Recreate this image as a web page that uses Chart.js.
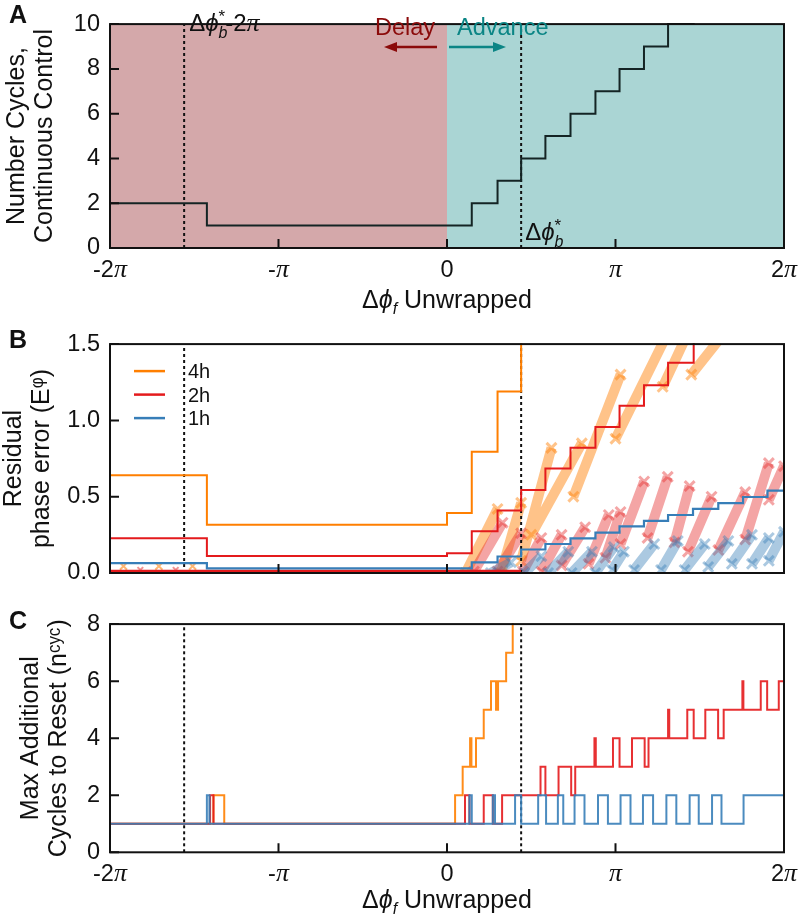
<!DOCTYPE html>
<html>
<head>
<meta charset="utf-8">
<script src="https://cdn.jsdelivr.net/npm/chart.js@4.4.0/dist/chart.umd.min.js"></script>
<style>
  body { margin: 0; background: #fff; }
  #wrap { position: relative; width: 800px; height: 920px; }
  canvas { position: absolute; left: 0; }
</style>
</head>
<body>
<div id="wrap">
  <canvas id="chartA" width="800" height="320" style="top:0px"></canvas>
  <canvas id="chartB" width="800" height="280" style="top:320px"></canvas>
  <canvas id="chartC" width="800" height="320" style="top:600px"></canvas>
</div>
<script>
// x values are in units of pi (phase shift, unwrapped)
const phaseTicks = [-2, -1, 0, 1, 2];
const phaseLabels = ["-2", "-", "0", "", "2"]; // number part, pi added when drawn
const phaseHasPi = [true, true, false, true, true];
const dphiStar = 0.44;
const guideLines = [dphiStar - 2, dphiStar];

// A: number of cycles with continuous control
const cyclesEdges = [-2, -1.425, 0.147, 0.30, 0.44, 0.584, 0.733, 0.881, 1.024, 1.169, 1.312, 1.464, 2];
const cyclesVals = [2, 1, 2, 3, 4, 5, 6, 7, 8, 9, 10, 11];
const cyclesMax = 10;

// B: residual phase error, step lines
const errEdges4h = [-2, -1.425, 0, 0.147, 0.30, 0.44, 2];
const err4h = [0.64, 0.317, 0.394, 0.794, 1.19, 1.6];
const errEdges2h = [-2, -1.425, 0, 0.147, 0.30, 0.44, 0.584, 0.733, 0.881, 1.024, 1.169, 1.312, 1.464, 2];
const err2h = [0.227, 0.112, 0.129, 0.273, 0.41, 0.544, 0.685, 0.82, 0.956, 1.096, 1.231, 1.377, 1.6];
const errEdges1h = [-2, -1.425, 0.147, 0.30, 0.44, 0.584, 0.733, 0.881, 1.024, 1.169, 1.312, 1.46, 1.61, 1.757, 1.902, 2];
const err1h = [0.065, 0.03, 0.07, 0.108, 0.154, 0.19, 0.227, 0.265, 0.305, 0.342, 0.38, 0.42, 0.458, 0.498, 0.54];
const floorEdges2h = [-2, 0.44];
const floor2h = [0.008];

// B: streaks of individual runs [x0, y0, x1, y1]
const bands4h = [
  [0.11, 0.00, 0.30, 0.42], [0.32, 0.00, 0.44, 0.46], [0.44, 0.08, 0.62, 0.82],
  [0.50, 0.25, 0.80, 0.85], [0.75, 0.50, 1.03, 1.30], [1.00, 0.88, 1.30, 1.55],
  [1.28, 1.22, 1.42, 1.55], [1.45, 1.30, 1.63, 1.55]
];
const bands2h = [
  [0.16, 0.01, 0.33, 0.33], [0.30, 0.01, 0.44, 0.26], [0.45, 0.01, 0.56, 0.23],
  [0.56, 0.01, 0.68, 0.25], [0.68, 0.05, 0.82, 0.30], [0.84, 0.06, 0.96, 0.38],
  [0.94, 0.10, 1.03, 0.40], [1.03, 0.19, 1.17, 0.60], [1.19, 0.23, 1.31, 0.63],
  [1.35, 0.20, 1.44, 0.57], [1.43, 0.14, 1.57, 0.50], [1.61, 0.15, 1.77, 0.53],
  [1.77, 0.22, 1.91, 0.72], [1.91, 0.48, 2.00, 0.70]
];
const bands1h = [
  [0.26, 0.00, 0.38, 0.07], [0.46, 0.00, 0.56, 0.11], [0.60, 0.00, 0.72, 0.14],
  [0.74, 0.00, 0.86, 0.14], [0.88, 0.00, 0.99, 0.17], [0.98, 0.02, 1.05, 0.14],
  [1.11, 0.02, 1.23, 0.19], [1.27, 0.02, 1.37, 0.21], [1.41, 0.02, 1.53, 0.19],
  [1.55, 0.04, 1.67, 0.21], [1.69, 0.06, 1.81, 0.25], [1.81, 0.06, 1.91, 0.23],
  [1.91, 0.08, 2.00, 0.27]
];
const leftMarks4h = [[-1.92, 0.045], [-1.71, 0.045], [-1.51, 0.045]];
const leftMarks2h = [[-1.82, 0.02], [-1.61, 0.02]];

// C: max additional cycles to reset
const resetEdges4h = [-2, -1.386, -1.322, 0.048, 0.093, 0.137, 0.145, 0.172, 0.218, 0.261, 0.291, 0.303, 0.351, 0.39, 0.5];
const reset4h = [1, 2, 1, 2, 3, 4, 3, 4, 5, 6, 5, 6, 7, 9];
const resetEdges2h = [-2, -1.406, -1.386, 0.107, 0.133, 0.218, 0.272, 0.327, 0.555, 0.584, 0.662, 0.737, 0.761,
  0.875, 0.883, 0.985, 1.024, 1.098, 1.173, 1.196, 1.312, 1.319, 1.426, 1.464, 1.533, 1.609, 1.642, 1.753,
  1.759, 1.862, 1.900, 1.969, 2.0];
const reset2h = [1, 2, 1, 2, 1, 2, 1, 2, 3, 2, 3, 2, 3, 4, 3, 4, 3, 4, 3, 4, 5, 4, 5, 4, 5, 4, 5, 6, 5, 6, 5, 6];
const resetEdges1h = [-2, -1.425, -1.41, 0.133, 0.147, 0.272, 0.285, 0.404, 0.44, 0.541, 0.588, 0.658, 0.69,
  0.757, 0.816, 0.896, 0.955, 1.030, 1.089, 1.163, 1.223, 1.302, 1.361, 1.440, 1.494, 1.573, 1.629, 1.760, 2.0];
const reset1h = [1, 2, 1, 2, 1, 2, 1, 2, 1, 2, 1, 2, 1, 2, 1, 2, 1, 2, 1, 2, 1, 2, 1, 2, 1, 2, 1, 2];

const c4h = "#ff7f00", c2h = "#e41a1c", c1h = "#377eb8";
const sans = '"Liberation Sans", Arial, sans-serif';
const serifPi = 'italic 26px "Liberation Serif", serif';
Chart.defaults.font.family = sans;
Chart.defaults.color = "#111";

function stepPoints(edges, vals) {
  const pts = vals.map((v, i) => ({ x: edges[i], y: v }));
  pts.push({ x: edges[edges.length - 1], y: vals[vals.length - 1] });
  return pts;
}

function bandPoints(list) {
  const pts = [];
  list.forEach((b) => {
    pts.push({ x: b[0], y: b[1] }, { x: b[2], y: b[3] }, { x: b[2], y: null });
  });
  return pts;
}

function stepSet(label, edges, vals, color, width) {
  return { label: label, data: stepPoints(edges, vals), borderColor: color, borderWidth: width,
    stepped: "before", pointRadius: 0, order: 1, clip: 1 };
}

function bandSet(list, color) {
  return { data: bandPoints(list), borderColor: color, borderWidth: 10, borderCapStyle: "butt",
    pointStyle: "crossRot", pointRadius: 7, pointBorderWidth: 3, pointBorderColor: color,
    pointBackgroundColor: color, order: 3, clip: 0 };
}

function guideSets(yMax) {
  return guideLines.map((g) => ({ data: [{ x: g, y: 0 }, { x: g, y: yMax }], borderColor: "#111",
    borderWidth: 2, borderDash: [3, 3], pointRadius: 0, order: 2, clip: 0 }));
}

function richText(ctx, x, y, parts, align) {
  let w = 0;
  parts.forEach((p) => { ctx.font = p.f; if (!p.stay) w += ctx.measureText(p.t).width; });
  let cx = align === "center" ? x - w / 2 : align === "right" ? x - w : x;
  ctx.textAlign = "left";
  parts.forEach((p) => {
    ctx.font = p.f;
    ctx.fillText(p.t, cx, y + (p.dy || 0));
    if (!p.stay) cx += ctx.measureText(p.t).width;
  });
}

function phiStar(ctx, x, y, tail) {
  const parts = [
    { t: "Δ", f: "24px " + sans },
    { t: "ϕ", f: "italic 24px " + sans },
    { t: "b", f: "italic 16px " + sans, dy: 7, stay: true },
    { t: "*", f: "17px " + sans, dy: -9 }
  ];
  if (tail) {
    parts.push({ t: "-2", f: "24px " + sans });
    parts.push({ t: "π", f: serifPi });
  }
  richText(ctx, x, y, parts, "left");
}

function arrow(ctx, x0, x1, y, color) {
  const dir = x1 > x0 ? 1 : -1;
  ctx.strokeStyle = color; ctx.fillStyle = color; ctx.lineWidth = 2.5;
  ctx.beginPath(); ctx.moveTo(x0, y); ctx.lineTo(x1 - dir * 8, y); ctx.stroke();
  ctx.beginPath(); ctx.moveTo(x1, y); ctx.lineTo(x1 - dir * 13, y - 5); ctx.lineTo(x1 - dir * 13, y + 5);
  ctx.closePath(); ctx.fill();
}

function makeDecor(letter, letterY, withXLabels, extra) {
  return {
    id: "decor" + letter,
    afterDatasetsDraw(chart) {
      const { ctx, chartArea: a, scales } = chart;
      ctx.save();
      ctx.strokeStyle = "#111"; ctx.lineWidth = 2; ctx.setLineDash([]);
      ctx.strokeRect(a.left, a.top, a.right - a.left, a.bottom - a.top);
      ctx.beginPath();
      scales.y.ticks.forEach((t) => {
        const py = scales.y.getPixelForValue(t.value);
        ctx.moveTo(a.left, py); ctx.lineTo(a.left + 9, py);
      });
      phaseTicks.forEach((v) => {
        const px = scales.x.getPixelForValue(v);
        ctx.moveTo(px, a.bottom); ctx.lineTo(px, a.bottom - 9);
      });
      ctx.stroke();
      ctx.fillStyle = "#111"; ctx.textBaseline = "alphabetic";
      ctx.font = "bold 25px " + sans;
      ctx.fillText(letter, 9, letterY);
      if (withXLabels) {
        phaseTicks.forEach((v, i) => {
          const parts = [];
          if (phaseLabels[i]) parts.push({ t: phaseLabels[i], f: "23.5px " + sans });
          if (phaseHasPi[i]) parts.push({ t: "π", f: serifPi });
          richText(ctx, scales.x.getPixelForValue(v), a.bottom + 29, parts, "center");
        });
        richText(ctx, (a.left + a.right) / 2, 308, [
          { t: "Δ", f: "25px " + sans },
          { t: "ϕ", f: "italic 25px " + sans },
          { t: "f", f: "italic 16px " + sans, dy: 6 },
          { t: " Unwrapped", f: "25px " + sans }
        ], "center");
      }
      if (extra) extra(chart, ctx, a);
      ctx.restore();
    }
  };
}

function baseOptions(yMin, yMax, yStep, yFmt, yTitle, titlePad, padTop, xAxisH) {
  return {
    responsive: false, animation: false, events: [],
    layout: { padding: { top: padTop, right: 16, left: 0, bottom: 0 } },
    plugins: { legend: { display: false }, tooltip: { enabled: false } },
    scales: {
      x: {
        type: "linear", min: -2, max: 2,
        grid: { display: false, drawTicks: false }, border: { display: false },
        ticks: { display: false, stepSize: 1 },
        afterFit: (s) => { s.height = xAxisH; }
      },
      y: {
        min: yMin, max: yMax,
        grid: { display: false, drawTicks: false }, border: { display: false },
        ticks: { stepSize: yStep, padding: 10, font: { size: 23.5 }, color: "#111", callback: yFmt },
        title: { display: true, text: yTitle, font: { size: 25, lineHeight: 1.12 }, color: "#111",
          padding: { top: titlePad, bottom: 0 } },
        afterFit: (s) => { s.width = 110; }
      }
    }
  };
}

// ---------- Panel A ----------
new Chart(document.getElementById("chartA"), {
  type: "line",
  data: {
    datasets: [
      stepSet("cycles", cyclesEdges, cyclesVals, "#142424", 2),
      ...guideSets(cyclesMax),
      { data: [{ x: 0, y: cyclesMax }, { x: 2, y: cyclesMax }], fill: "start", backgroundColor: "#aad5d4",
        borderWidth: 0, pointRadius: 0, order: 5 },
      { data: [{ x: -2, y: cyclesMax }, { x: 0, y: cyclesMax }], fill: "start", backgroundColor: "#d4a8aa",
        borderWidth: 0, pointRadius: 0, order: 6 }
    ]
  },
  options: baseOptions(0, cyclesMax, 2, (v) => v, ["Number Cycles,", "Continuous Control"], 3, 9.5, 72),
  plugins: [makeDecor("A", 23, true, (chart, ctx, a) => {
    const xs = chart.scales.x;
    ctx.fillStyle = "#111";
    phiStar(ctx, xs.getPixelForValue(guideLines[0]) + 5, 31, true);
    phiStar(ctx, xs.getPixelForValue(guideLines[1]) + 4, 240, false);
    const x0 = xs.getPixelForValue(0);
    ctx.font = "23.5px " + sans;
    ctx.fillStyle = "#8b0a0a"; ctx.textAlign = "right";
    ctx.fillText("Delay", x0 - 12, 35);
    ctx.fillStyle = "#0b8585"; ctx.textAlign = "left";
    ctx.fillText("Advance", x0 + 10, 35);
    arrow(ctx, x0 - 10, x0 - 63, 47, "#8b0a0a");
    arrow(ctx, x0 + 2, x0 + 59, 47, "#0b8585");
  })]
});

// ---------- Panel B ----------
new Chart(document.getElementById("chartB"), {
  type: "line",
  data: {
    datasets: [
      stepSet("4h", errEdges4h, err4h, c4h, 2),
      stepSet("2h", errEdges2h, err2h, c2h, 2),
      stepSet("1h", errEdges1h, err1h, c1h, 2.2),
      { data: stepPoints(floorEdges2h, floor2h), borderColor: c2h, borderWidth: 4, pointRadius: 0, order: 1, clip: 0 },
      ...guideSets(1.5),
      bandSet(bands1h, "rgba(55,126,184,0.42)"),
      bandSet(bands2h, "rgba(228,40,40,0.42)"),
      bandSet(bands4h, "rgba(255,135,20,0.5)"),
      { data: leftMarks4h.map((p) => ({ x: p[0], y: p[1] })), showLine: false, pointStyle: "crossRot",
        pointRadius: 5, pointBorderWidth: 2, pointBorderColor: "rgba(255,135,20,0.6)", order: 3 },
      { data: leftMarks2h.map((p) => ({ x: p[0], y: p[1] })), showLine: false, pointStyle: "crossRot",
        pointRadius: 4, pointBorderWidth: 2, pointBorderColor: "rgba(228,40,40,0.5)", order: 3 }
    ]
  },
  options: baseOptions(0, 1.5, 0.5, (v) => v.toFixed(1), ["Residual", "phase error (E\u1D60)"], 0, 13, 27),
  plugins: [makeDecor("B", 28, false, (chart, ctx, a) => {
    const items = chart.data.datasets.filter((d) => ["4h", "2h", "1h"].includes(d.label));
    items.forEach((d, i) => {
      const y = a.top + 27 + i * 23.5;
      ctx.strokeStyle = d.borderColor; ctx.lineWidth = 2.5;
      ctx.beginPath(); ctx.moveTo(a.left + 24, y); ctx.lineTo(a.left + 55, y); ctx.stroke();
      ctx.fillStyle = "#111"; ctx.font = "20px " + sans; ctx.textAlign = "left";
      ctx.fillText(d.label, a.left + 78, y + 7);
    });
  })]
});

// ---------- Panel C ----------
new Chart(document.getElementById("chartC"), {
  type: "line",
  data: {
    datasets: [
      stepSet("1h", resetEdges1h, reset1h, "rgba(55,126,184,0.9)", 2),
      stepSet("2h", resetEdges2h, reset2h, "rgba(228,26,28,0.9)", 2),
      stepSet("4h", resetEdges4h, reset4h, "rgba(255,127,0,0.9)", 2),
      ...guideSets(8)
    ]
  },
  options: baseOptions(0, 8, 2, (v) => v, ["Max Additional", "Cycles to Reset (n\u1D9C\u02B8\u1D9C)"], 17, 12.7, 67.7),
  plugins: [makeDecor("C", 29, true, null)]
});
</script>
</body>
</html>
